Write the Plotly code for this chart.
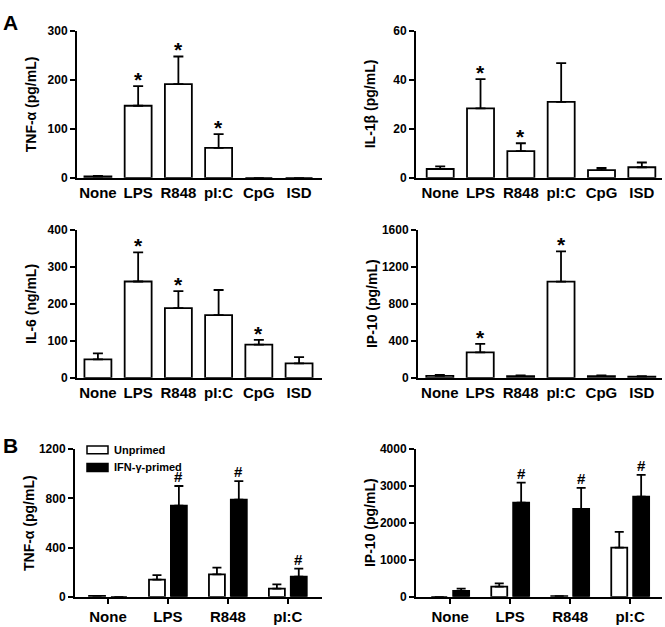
import plotly.graph_objects as go

# ---------------- data ----------------
categories_A = ["None", "LPS", "R848", "pI:C", "CpG", "ISD"]
tnf_mean = [2.7, 147, 191, 61, 0, 0]
tnf_err = [1.3, 40, 56.5, 28, 0, 0]
tnf_sig = [False, True, True, True, False, False]

il1b_mean = [3.6, 28.3, 10.9, 31.0, 3.1, 4.3]
il1b_err = [1.1, 12.0, 3.2, 15.8, 0.9, 1.95]
il1b_sig = [False, True, True, False, False, False]

il6_mean = [50, 261, 189, 170, 90, 39]
il6_err = [16, 79, 46, 68, 13, 17]
il6_sig = [False, True, True, False, True, False]

ip10_mean = [21, 275, 18, 1042, 18, 14]
ip10_err = [11, 92, 7, 328, 7, 4]
ip10_sig = [False, True, False, True, False, False]

categories_B = ["None", "LPS", "R848", "pI:C"]
series_B = ["Unprimed", "IFN-γ-primed"]
tnfB_unprimed = [8, 140, 183, 66]
tnfB_unprimed_err = [0, 37, 55, 35]
tnfB_primed = [0, 742, 789, 164]
tnfB_primed_err = [0, 159, 151, 66]
tnfB_sig = [False, True, True, True]

ip10B_unprimed = [0, 276, 20, 1333]
ip10B_unprimed_err = [0, 88, 0, 427]
ip10B_primed = [160, 2551, 2382, 2711]
ip10B_primed_err = [62, 542, 569, 596]
ip10B_sig = [False, True, True, True]

# ---------------- layout helpers ----------------
W, H = 665, 627
FONT = "Liberation Sans, Arial, sans-serif"


def px_x(p):
    return p / W


def px_y(p):
    return 1 - p / H


fig = go.Figure()

panelsA = [
    ("TNF-α (pg/mL)", tnf_mean, tnf_err, tnf_sig, [0, 300], [0, 100, 200, 300], (77, 322), (24.3, 174.7), [-0.52, 5.57]),
    ("IL-1β (pg/mL)", il1b_mean, il1b_err, il1b_sig, [0, 60], [0, 20, 40, 60], (416, 662), (24.3, 174.7), [-0.6, 5.5]),
    ("IL-6 (ng/mL)", il6_mean, il6_err, il6_sig, [0, 400], [0, 100, 200, 300, 400], (77, 322), (228.3, 379.3), [-0.52, 5.57]),
    ("IP-10 (pg/mL)", ip10_mean, ip10_err, ip10_sig, [0, 1600], [0, 400, 800, 1200, 1600], (418, 662), (228.3, 379.3), [-0.54, 5.5]),
]

panelsB = [
    ("TNF-α (pg/mL)", (tnfB_unprimed, tnfB_primed), (tnfB_unprimed_err, tnfB_primed_err), tnfB_sig,
     [0, 1200], [0, 400, 800, 1200], (75, 322), (452.3, 603.3), [-0.55, 3.57]),
    ("IP-10 (pg/mL)", (ip10B_unprimed, ip10B_primed), (ip10B_unprimed_err, ip10B_primed_err), ip10B_sig,
     [0, 4000], [0, 1000, 2000, 3000, 4000], (416, 662), (452.3, 603.3), [-0.57, 3.53]),
]

annotations = []
shapes = []
layout_axes = {}


def axis_style(domain, **kw):
    d = dict(domain=domain, showgrid=False, zeroline=False, showline=True,
             linecolor="black", linewidth=2, mirror=False,
             tickfont=dict(family=FONT, size=12, color="black", weight="bold"),
             fixedrange=True)
    d.update(kw)
    return d


idx = 0
for title, mean, err, sig, yr, ytv, xpx, ypx, xr in panelsA:
    idx += 1
    xa = "x" if idx == 1 else f"x{idx}"
    ya = "y" if idx == 1 else f"y{idx}"
    xs = list(range(len(categories_A)))
    fig.add_trace(go.Bar(
        x=xs, y=mean, width=0.67, xaxis=xa, yaxis=ya,
        marker=dict(color="white", line=dict(color="black", width=1.8)),
        error_y=dict(type="data", symmetric=False, array=err, arrayminus=[0] * len(err),
                     color="black", thickness=1.8, width=5),
        showlegend=False,
    ))
    layout_axes["xaxis" if idx == 1 else f"xaxis{idx}"] = axis_style(
        [px_x(xpx[0]), px_x(xpx[1])], anchor=ya, range=xr, tickmode="array",
        tickvals=xs, ticktext=categories_A, ticks="",
        tickfont=dict(family=FONT, size=15, color="black", weight="bold"))
    layout_axes["yaxis" if idx == 1 else f"yaxis{idx}"] = axis_style(
        [px_y(ypx[1]), px_y(ypx[0])], anchor=xa, range=yr, tickmode="array",
        tickvals=ytv, ticks="outside", ticklen=5, tickwidth=2, tickcolor="black")
    annotations.append(dict(text=title, xref=f"{xa} domain", yref=f"{ya} domain",
                            x=0, y=0.5, xshift=-46, textangle=-90, showarrow=False,
                            xanchor="center", yanchor="middle",
                            font=dict(family=FONT, size=14, color="black", weight="bold")))
    for i, s in enumerate(sig):
        if s:
            annotations.append(dict(text="*", xref=xa, yref=ya, x=xs[i], y=mean[i] + err[i],
                                    showarrow=False, yanchor="bottom", yshift=-7,
                                    font=dict(family=FONT, size=21, color="black", weight="bold")))

fill_B = ["white", "black"]
for title, means, errs, sig, yr, ytv, xpx, ypx, xr in panelsB:
    idx += 1
    xa = f"x{idx}"
    ya = f"y{idx}"
    xs = list(range(len(categories_B)))
    for k in range(2):
        fig.add_trace(go.Bar(
            x=xs, y=means[k], name=series_B[k], xaxis=xa, yaxis=ya,
            marker=dict(color=fill_B[k], line=dict(color="black", width=1.8)),
            error_y=dict(type="data", symmetric=False, array=errs[k], arrayminus=[0] * len(errs[k]),
                         color="black", thickness=1.8, width=4.5),
            showlegend=False,
        ))
    layout_axes[f"xaxis{idx}"] = axis_style(
        [px_x(xpx[0]), px_x(xpx[1])], anchor=ya, range=xr, tickmode="array",
        tickvals=xs, ticktext=categories_B, ticks="outside", ticklen=5, tickwidth=2, tickcolor="black",
        tickfont=dict(family=FONT, size=15, color="black", weight="bold"))
    layout_axes[f"yaxis{idx}"] = axis_style(
        [px_y(ypx[1]), px_y(ypx[0])], anchor=xa, range=yr, tickmode="array",
        tickvals=ytv, ticks="outside", ticklen=5, tickwidth=2, tickcolor="black")
    annotations.append(dict(text=title, xref=f"{xa} domain", yref=f"{ya} domain",
                            x=0, y=0.5, xshift=-46, textangle=-90, showarrow=False,
                            xanchor="center", yanchor="middle",
                            font=dict(family=FONT, size=14, color="black", weight="bold")))
    for i, s in enumerate(sig):
        if s:
            annotations.append(dict(text="#", xref=xa, yref=ya, x=xs[i] + 0.18,
                                    y=means[1][i] + errs[1][i],
                                    showarrow=False, yanchor="bottom", yshift=-1,
                                    font=dict(family=FONT, size=15, color="black", weight="bold")))

# manual legend in panel B (TNF-α)
leg_items = [(series_B[0], "white", 449, 457, 453), (series_B[1], "black", 467, 475, 471)]
for name, col, y0, y1, yc in leg_items:
    shapes.append(dict(type="rect", xref="paper", yref="paper",
                       x0=px_x(87), x1=px_x(108), y0=px_y(y1), y1=px_y(y0),
                       fillcolor=col, line=dict(color="black", width=1.5)))
    annotations.append(dict(text=name, xref="paper", yref="paper", x=px_x(112), y=px_y(yc),
                            xanchor="left", yanchor="middle", showarrow=False,
                            font=dict(family=FONT, size=11, color="black", weight="bold")))

# panel letters
for letter, ytop in [("A", 2), ("B", 435)]:
    annotations.append(dict(text=letter, xref="paper", yref="paper", x=px_x(1), y=px_y(ytop),
                            xanchor="left", yanchor="top", showarrow=False,
                            font=dict(family=FONT, size=21, color="black", weight="bold")))

fig.update_layout(
    width=W, height=H, margin=dict(l=0, r=0, t=0, b=0),
    paper_bgcolor="white", plot_bgcolor="white",
    barmode="group", bargap=0.27, bargroupgap=0.27,
    annotations=annotations, shapes=shapes,
    font=dict(family=FONT, color="black"),
    **layout_axes,
)

fig.write_html("out.html", config={"displayModeBar": False},
               post_script="document.body.style.margin='0';document.body.style.overflow='hidden';")
